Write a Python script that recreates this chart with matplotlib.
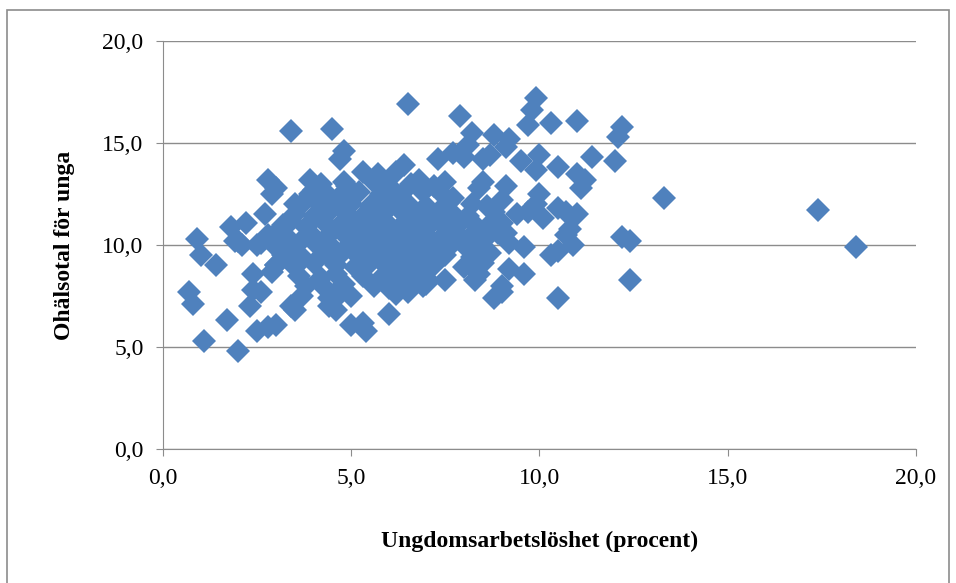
import matplotlib.pyplot as plt
from matplotlib.patches import Rectangle
from matplotlib.ticker import FuncFormatter

# outer / clearly visible points
x_outer = [0.7, 0.8, 0.9, 1.0, 1.1, 1.4, 1.7, 1.8, 2.0, 2.0, 2.2, 2.3, 2.4, 2.4, 2.5, 2.6,
           2.6, 2.8, 3.0, 2.8, 3.0, 2.9, 3.4, 3.5, 3.3, 3.4, 3.5, 3.4, 3.1, 2.7, 3.9, 4.0,
           4.5, 4.8, 4.7, 4.8, 4.7, 5.0, 5.3, 5.4, 5.3, 5.7, 6.0, 6.2, 6.4, 6.5, 7.3, 7.9,
           7.7, 8.0, 8.2, 8.1, 8.8, 8.5, 8.7, 9.2, 9.1, 9.5, 9.9, 9.8, 9.7, 10.3, 11.0,
           10.0, 9.9, 10.5, 11.4, 12.2, 12.1, 12.0, 11.0, 11.2, 11.1, 10.7, 10.5, 11.0,
           10.8, 10.7, 10.9, 10.5, 10.3, 10.5, 12.2, 12.4, 12.4, 13.3, 17.4, 18.4, 9.6,
           9.6, 9.2, 9.0, 8.8, 9.0, 8.3, 7.5, 7.0, 6.5, 9.9, 10.0, 10.1, 9.7, 9.4, 9.1,
           9.0, 8.5, 8.4, 8.7, 8.9, 1.9, 2.1, 3.0, 2.9]
y_outer = [7.7, 7.1, 10.3, 9.5, 5.3, 9.0, 6.3, 10.9, 4.8, 10.2, 11.1, 7.0, 8.6, 7.8, 5.8, 7.7,
           10.1, 6.0, 6.1, 13.2, 12.8, 12.5, 15.6, 12.0, 9.6, 7.0, 6.8, 11.2, 10.8, 11.5, 13.2, 12.7,
           15.7, 14.6, 14.2, 13.1, 12.4, 6.1, 6.2, 5.8, 13.6, 13.5, 6.6, 13.6, 13.9, 16.9, 14.2, 16.3,
           14.5, 14.3, 15.5, 14.9, 15.4, 14.2, 14.4, 15.2, 14.8, 14.1, 17.2, 16.6, 15.9, 16.0, 16.1,
           14.4, 13.7, 13.8, 14.3, 15.8, 15.3, 14.1, 13.5, 13.2, 12.8, 11.6, 11.8, 11.5,
           10.8, 10.5, 10.0, 9.7, 9.5, 7.4, 10.4, 10.2, 8.3, 12.3, 11.7, 9.9, 9.9,
           8.6, 8.8, 8.0, 7.4, 7.7, 8.3, 8.3, 8.1, 7.7, 12.0, 12.5, 11.3, 11.6, 11.5, 12.9,
           12.2, 13.1, 12.8, 11.0, 10.6, 10.2, 10.0, 9.0, 8.7]

# dense central cluster
x_cluster = [4.2, 4.9, 5.6, 6.0, 6.6, 6.8, 7.2, 7.5,
             3.9, 4.4, 5.2, 5.8, 6.3, 6.9, 7.4, 7.7,
             3.7, 4.2, 4.6, 5.0, 5.5, 6.1, 6.5, 7.0, 7.6, 8.2, 8.6,
             3.5, 4.0, 4.4, 4.9, 5.3, 5.9, 6.4, 6.8, 7.3, 7.7, 8.1, 8.8,
             3.2, 3.8, 4.3, 4.7, 5.1, 5.6, 6.0, 6.3, 6.7, 7.1, 7.5, 7.9, 8.3, 8.6, 9.0,
             2.8, 3.3, 3.9, 4.4, 4.9, 5.3, 5.7, 6.2, 6.6, 7.0, 7.4, 7.8, 8.2, 8.6, 9.1,
             2.5, 3.0, 3.6, 4.1, 4.5, 5.0, 5.5, 5.9, 6.4, 6.8, 7.2, 7.7, 8.0, 8.5, 9.2,
             3.2, 3.7, 4.3, 4.7, 5.2, 5.6, 6.1, 6.5, 6.9, 7.5, 8.2, 8.7,
             3.0, 3.5, 4.0, 4.6, 5.1, 5.5, 5.9, 6.3, 6.8, 7.2, 8.0, 8.5,
             3.6, 4.2, 4.6, 5.3, 5.8, 6.2, 6.6, 7.0, 8.4,
             3.8, 4.3, 4.8, 5.6, 6.0, 6.4, 6.9,
             3.7, 4.4, 4.7, 5.0, 6.2,
             4.4, 4.6]
y_cluster = [13.0, 12.9, 13.1, 12.9, 13.0, 13.2, 12.9, 13.1,
             12.5, 12.4, 12.6, 12.5, 12.4, 12.6, 12.5, 12.3,
             12.0, 11.9, 12.1, 12.0, 11.9, 12.1, 12.0, 11.9, 12.1, 12.0, 11.9,
             11.5, 11.4, 11.6, 11.5, 11.4, 11.6, 11.5, 11.4, 11.6, 11.5, 11.4, 11.6,
             11.0, 10.9, 11.1, 11.0, 10.9, 11.1, 11.0, 10.9, 11.1, 11.0, 10.9, 11.1, 11.0, 10.9, 11.1,
             10.5, 10.4, 10.6, 10.5, 10.4, 10.6, 10.5, 10.4, 10.6, 10.5, 10.4, 10.6, 10.5, 10.4, 10.6,
             10.0, 9.9, 10.1, 10.0, 9.9, 10.1, 10.0, 9.9, 10.1, 10.0, 9.9, 10.1, 10.0, 9.9, 10.1,
             9.5, 9.4, 9.6, 9.5, 9.4, 9.6, 9.5, 9.4, 9.6, 9.5, 9.4, 9.6,
             9.0, 8.9, 9.1, 9.0, 8.9, 9.1, 9.0, 8.9, 9.1, 9.0, 8.9, 9.1,
             8.5, 8.4, 8.6, 8.5, 8.4, 8.6, 8.5, 8.4, 8.6,
             8.0, 7.9, 8.1, 8.0, 7.9, 8.1, 8.0,
             7.5, 7.4, 7.6, 7.5, 7.6,
             7.0, 6.8]

x_vals = x_outer + x_cluster
y_vals = y_outer + y_cluster

fig = plt.figure(figsize=(9.56, 5.83), dpi=100)
fig.patches.append(Rectangle((0.007, -0.05), 0.986, 1.033, transform=fig.transFigure,
                             fill=False, edgecolor='#8c8c8c', linewidth=1.2))
ax = fig.add_axes([0.1705, 0.2298, 0.7875, 0.6999])

ax.plot(x_vals, y_vals, linestyle='none', marker='D', markersize=12,
        color='#4f81bd', markeredgewidth=0, zorder=3)

ax.set_xlim(0, 20)
ax.set_ylim(0, 20)
ax.set_xticks([0, 5, 10, 15, 20])
ax.set_yticks([0, 5, 10, 15, 20])
fmt = FuncFormatter(lambda v, p: f"{v:.1f}".replace('.', ','))
ax.xaxis.set_major_formatter(fmt)
ax.yaxis.set_major_formatter(fmt)
ax.grid(axis='y', color='#8c8c8c', linewidth=1.0)
ax.set_axisbelow(True)
for s in ['top', 'right']:
    ax.spines[s].set_visible(False)
for s in ['left', 'bottom']:
    ax.spines[s].set_color('#8c8c8c')
ax.tick_params(direction='out', length=5, color='#8c8c8c', labelsize=17, pad=9)
for lab in ax.get_xticklabels() + ax.get_yticklabels():
    lab.set_fontfamily('Liberation Serif')

ax.set_xlabel('Ungdomsarbetslöshet (procent)', fontsize=17, fontweight='bold',
              family='Liberation Serif', labelpad=30)
ax.set_ylabel('Ohälsotal för unga', fontsize=17, fontweight='bold',
              family='Liberation Serif', labelpad=20)

fig.savefig('out.png', dpi=100)
